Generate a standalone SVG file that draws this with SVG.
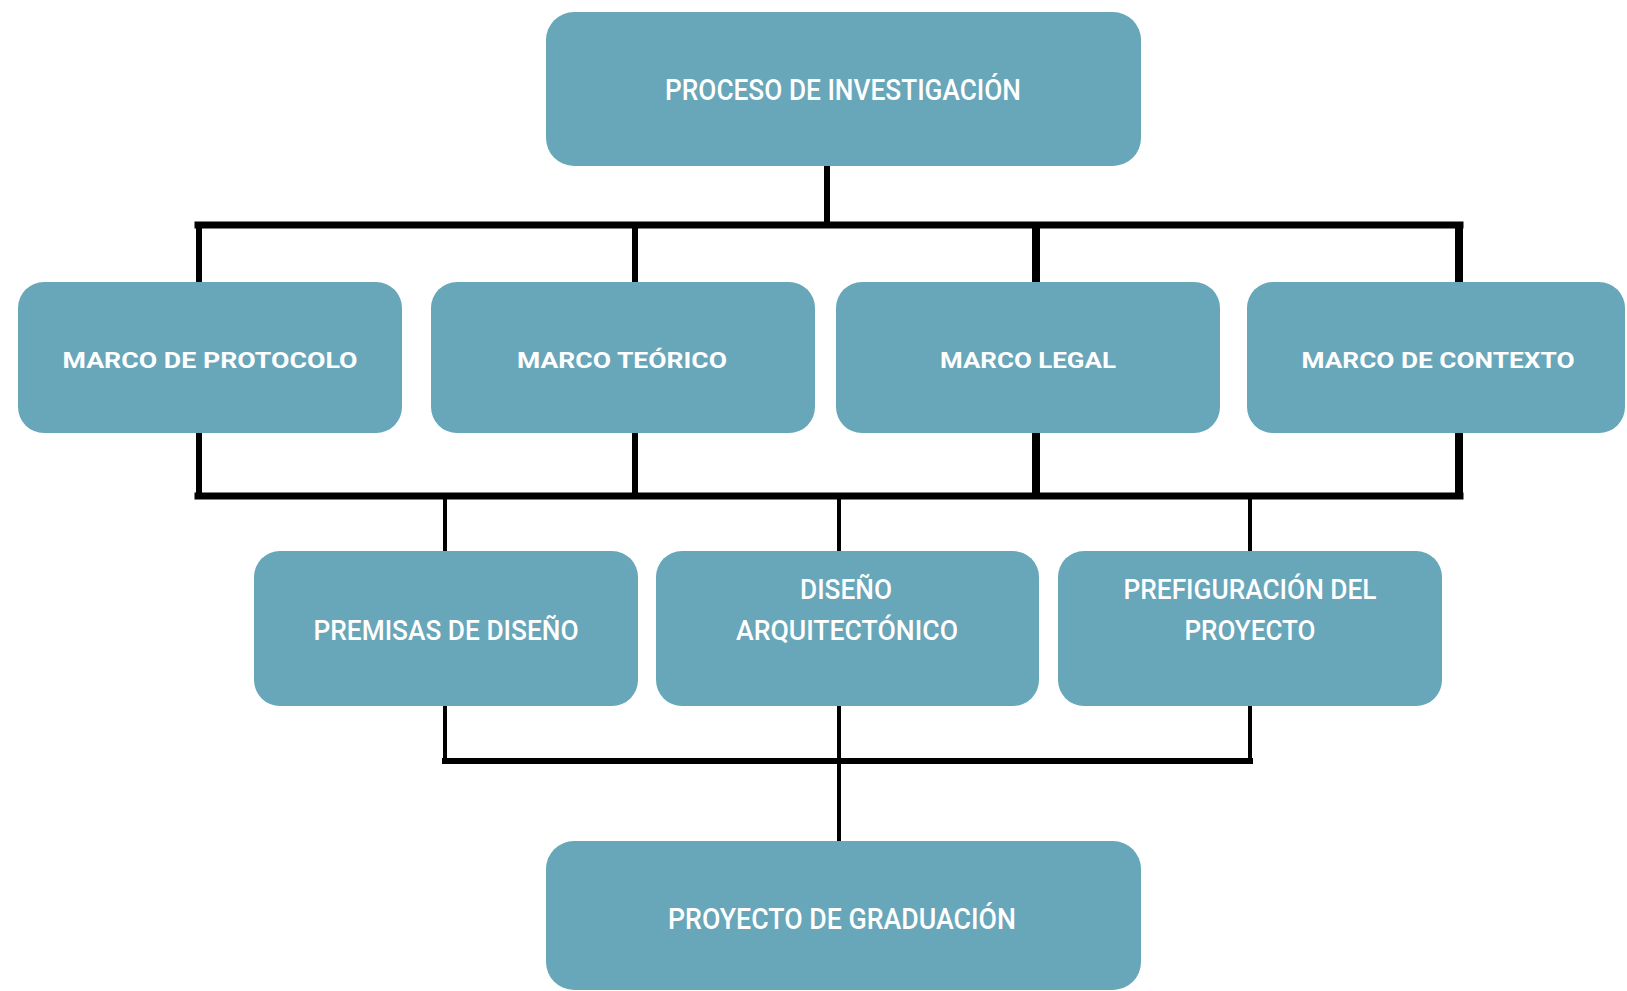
<svg xmlns="http://www.w3.org/2000/svg" width="1627" height="991" viewBox="0 0 1627 991">
<style>
.box{fill:#68a6b9;}
.t{font-family:Roboto,"Liberation Sans",sans-serif;font-weight:500;fill:#ffffff;text-anchor:middle;}
.big{font-size:29px;}
.mid{font-size:22px;font-weight:700;}
.lg{font-size:27px;}
.c{stroke:#000;fill:none;stroke-linecap:butt;}
.sq{stroke-linecap:square;}
.w8{stroke-width:8;}
.w7{stroke-width:7;}
.w6{stroke-width:6;}
.w4{stroke-width:4;}
</style>
<rect width="1627" height="991" fill="#ffffff"/>
<g id="connectors">
<line class="c w6" x1="827" y1="166" x2="827" y2="225"/>
<line class="c w7 sq" x1="198" y1="225" x2="1460" y2="225"/>
<line class="c w6" x1="199" y1="225" x2="199" y2="282"/>
<line class="c w6" x1="635" y1="225" x2="635" y2="282"/>
<line class="c w8" x1="1036" y1="225" x2="1036" y2="282"/>
<line class="c w8" x1="1459" y1="225" x2="1459" y2="282"/>
<line class="c w6" x1="199" y1="433" x2="199" y2="496"/>
<line class="c w6" x1="635" y1="433" x2="635" y2="496"/>
<line class="c w8" x1="1036" y1="433" x2="1036" y2="496"/>
<line class="c w8" x1="1459" y1="433" x2="1459" y2="496"/>
<line class="c w7 sq" x1="198" y1="496" x2="1460" y2="496"/>
<line class="c w4" x1="445" y1="496" x2="445" y2="551"/>
<line class="c w4" x1="839" y1="496" x2="839" y2="551"/>
<line class="c w4" x1="1250" y1="496" x2="1250" y2="551"/>
<line class="c w4" x1="445" y1="706" x2="445" y2="761"/>
<line class="c w4" x1="839" y1="706" x2="839" y2="761"/>
<line class="c w4" x1="1250" y1="706" x2="1250" y2="761"/>
<line class="c w6 sq" x1="445" y1="761" x2="1250" y2="761"/>
<line class="c w4" x1="839" y1="761" x2="839" y2="841"/>
</g>
<g id="n-proceso">
<rect class="box" x="546" y="12" width="595" height="154" rx="28"/>
<text class="t big" x="843" y="100" textLength="356" lengthAdjust="spacingAndGlyphs">PROCESO DE INVESTIGACIÓN</text>
</g>
<g id="n-protocolo">
<rect class="box" x="18" y="282" width="384" height="151" rx="26"/>
<text class="t mid" x="210" y="368" textLength="295" lengthAdjust="spacingAndGlyphs">MARCO DE PROTOCOLO</text>
</g>
<g id="n-teorico">
<rect class="box" x="431" y="282" width="384" height="151" rx="26"/>
<text class="t mid" x="622" y="368" textLength="210" lengthAdjust="spacingAndGlyphs">MARCO TEÓRICO</text>
</g>
<g id="n-legal">
<rect class="box" x="836" y="282" width="384" height="151" rx="26"/>
<text class="t mid" x="1028" y="368" textLength="176" lengthAdjust="spacingAndGlyphs">MARCO LEGAL</text>
</g>
<g id="n-contexto">
<rect class="box" x="1247" y="282" width="378" height="151" rx="26"/>
<text class="t mid" x="1438" y="368" textLength="273" lengthAdjust="spacingAndGlyphs">MARCO DE CONTEXTO</text>
</g>
<g id="n-premisas">
<rect class="box" x="254" y="551" width="384" height="155" rx="26"/>
<text class="t lg" x="446" y="640" textLength="265" lengthAdjust="spacingAndGlyphs">PREMISAS DE DISEÑO</text>
</g>
<g id="n-diseno">
<rect class="box" x="656" y="551" width="383" height="155" rx="26"/>
<text class="t lg" x="846" y="599" textLength="92" lengthAdjust="spacingAndGlyphs">DISEÑO</text>
<text class="t lg" x="847" y="640" textLength="222" lengthAdjust="spacingAndGlyphs">ARQUITECTÓNICO</text>
</g>
<g id="n-prefiguracion">
<rect class="box" x="1058" y="551" width="384" height="155" rx="26"/>
<text class="t lg" x="1250" y="599" textLength="253" lengthAdjust="spacingAndGlyphs">PREFIGURACIÓN DEL</text>
<text class="t lg" x="1250" y="640" textLength="131" lengthAdjust="spacingAndGlyphs">PROYECTO</text>
</g>
<g id="n-graduacion">
<rect class="box" x="546" y="841" width="595" height="149" rx="28"/>
<text class="t big" x="842" y="929" textLength="348" lengthAdjust="spacingAndGlyphs">PROYECTO DE GRADUACIÓN</text>
</g>
</svg>
